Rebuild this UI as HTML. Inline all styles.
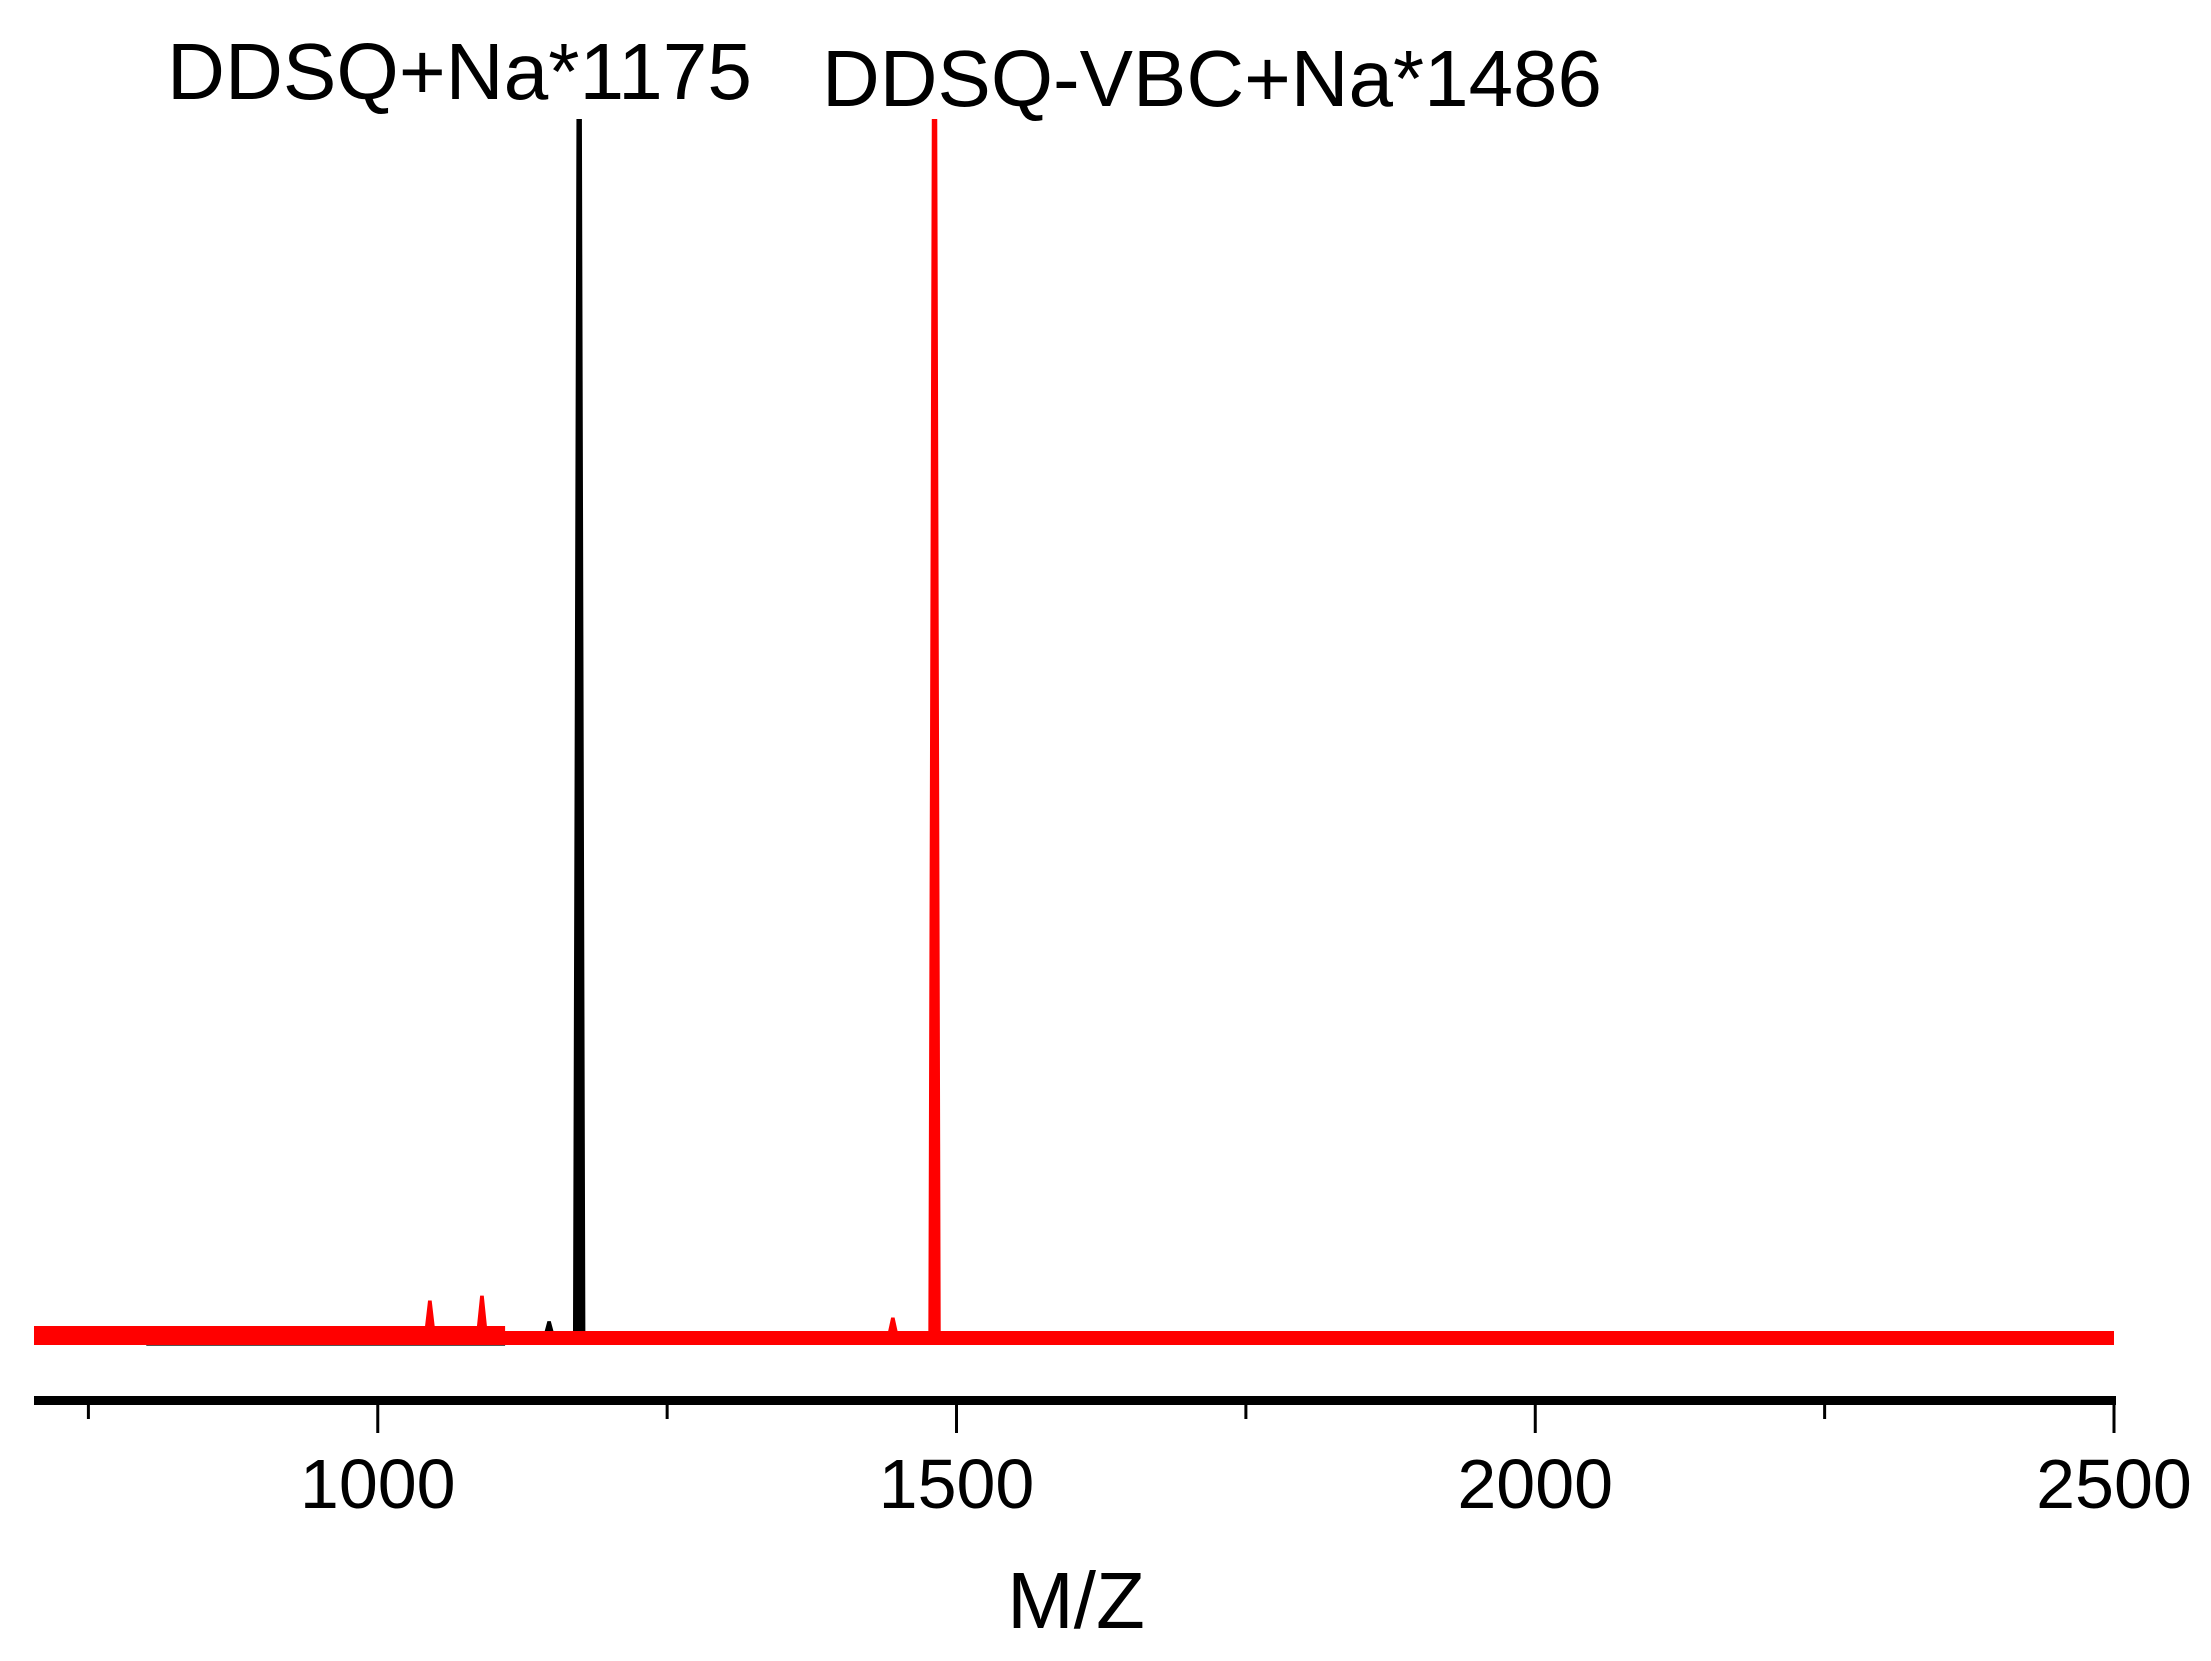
<!DOCTYPE html>
<html><head><meta charset="utf-8"><style>
html,body{margin:0;padding:0;background:#fff;}
svg{display:block;}
text{font-family:"Liberation Sans",sans-serif;fill:#000;}
</style></head><body>
<svg id="chart" width="2211" height="1661" viewBox="0 0 2211 1661" xmlns="http://www.w3.org/2000/svg">
<g id="plot"></g>
<g id="axis"></g>
<text x="167" y="99" font-size="80" textLength="585" lengthAdjust="spacingAndGlyphs">DDSQ+Na*1175</text>
<text x="822" y="106" font-size="80" textLength="780" lengthAdjust="spacingAndGlyphs">DDSQ-VBC+Na*1486</text>
<text x="1076" y="1628" font-size="80" text-anchor="middle">M/Z</text>
</svg>
<script>
const xMin = 703, xMax = 2500;
const majorTicks = [1000, 1500, 2000, 2500];
const minorTicks = [750, 1250, 1750, 2250];
const tickLabels = ["1000", "1500", "2000", "2500"];
// black series (DDSQ): peak m/z and relative intensity (%)
const blackMz = [1148, 1174];
const blackInt = [1.3, 100];
// red series (DDSQ-VBC)
const redMz = [1045, 1090, 1445, 1481];
const redInt = [3.0, 3.4, 1.6, 100];

const NS = "http://www.w3.org/2000/svg";
const X0 = 34, X1 = 2114;
const Y0 = 1338, Y100 = 120;
function sx(v){ return X0 + (v - xMin) * (X1 - X0) / (xMax - xMin); }
function sy(i){ return Y0 - i * (Y0 - Y100) / 100; }

const plot = document.getElementById('plot');
const axis = document.getElementById('axis');
function mk(tag, attrs, parent){
  const e = document.createElementNS(NS, tag);
  for (const k in attrs) e.setAttribute(k, attrs[k]);
  parent.appendChild(e);
  return e;
}

let bb = mk('line', {x1: sx(800), x2: sx(1110), y1: Y0 + 5, y2: Y0 + 5, stroke: '#555', 'stroke-width': 6}, plot);



function drawPeaks(mzs, ints, color, name){
  mzs.forEach((m, i) => {
    const hw = 4.5;
    const tw = ints[i] > 50 ? 1.5 : 0.8;
    const p = mk('polygon', {
      points: `${sx(m-hw)},${Y0} ${sx(m-tw)},${sy(ints[i])} ${sx(m+tw)},${sy(ints[i])} ${sx(m+hw)},${Y0}`,
      fill: color, stroke: color, 'stroke-width': 2
    }, plot);
    
    
  });
}
drawPeaks(blackMz, blackInt, '#000', 'black');

let rb = mk('rect', {x: sx(xMin), y: Y0 - 7, width: sx(xMax) - sx(xMin), height: 14, fill: '#ff0000'}, plot);


let rb2 = mk('rect', {x: sx(xMin), y: Y0 - 12, width: sx(1110) - sx(xMin), height: 6, fill: '#ff0000'}, plot);


drawPeaks(redMz, redInt, '#ff0000', 'red');

let al = mk('rect', {x: sx(xMin), y: 1396, width: sx(xMax) - sx(xMin) + 2, height: 9, fill: '#000'}, axis);


majorTicks.forEach((t, i) => {
  const l = mk('line', {x1: sx(t), x2: sx(t), y1: 1400, y2: 1433, stroke: '#000', 'stroke-width': 3}, axis);
  
  
  const tx = mk('text', {x: sx(t), y: 1508, 'font-size': 70, 'text-anchor': 'middle'}, axis);
  tx.textContent = tickLabels[i];
  
  
});
minorTicks.forEach(t => {
  const l = mk('line', {x1: sx(t), x2: sx(t), y1: 1400, y2: 1419, stroke: '#000', 'stroke-width': 3}, axis);
  
  
});
</script>
</body></html>
